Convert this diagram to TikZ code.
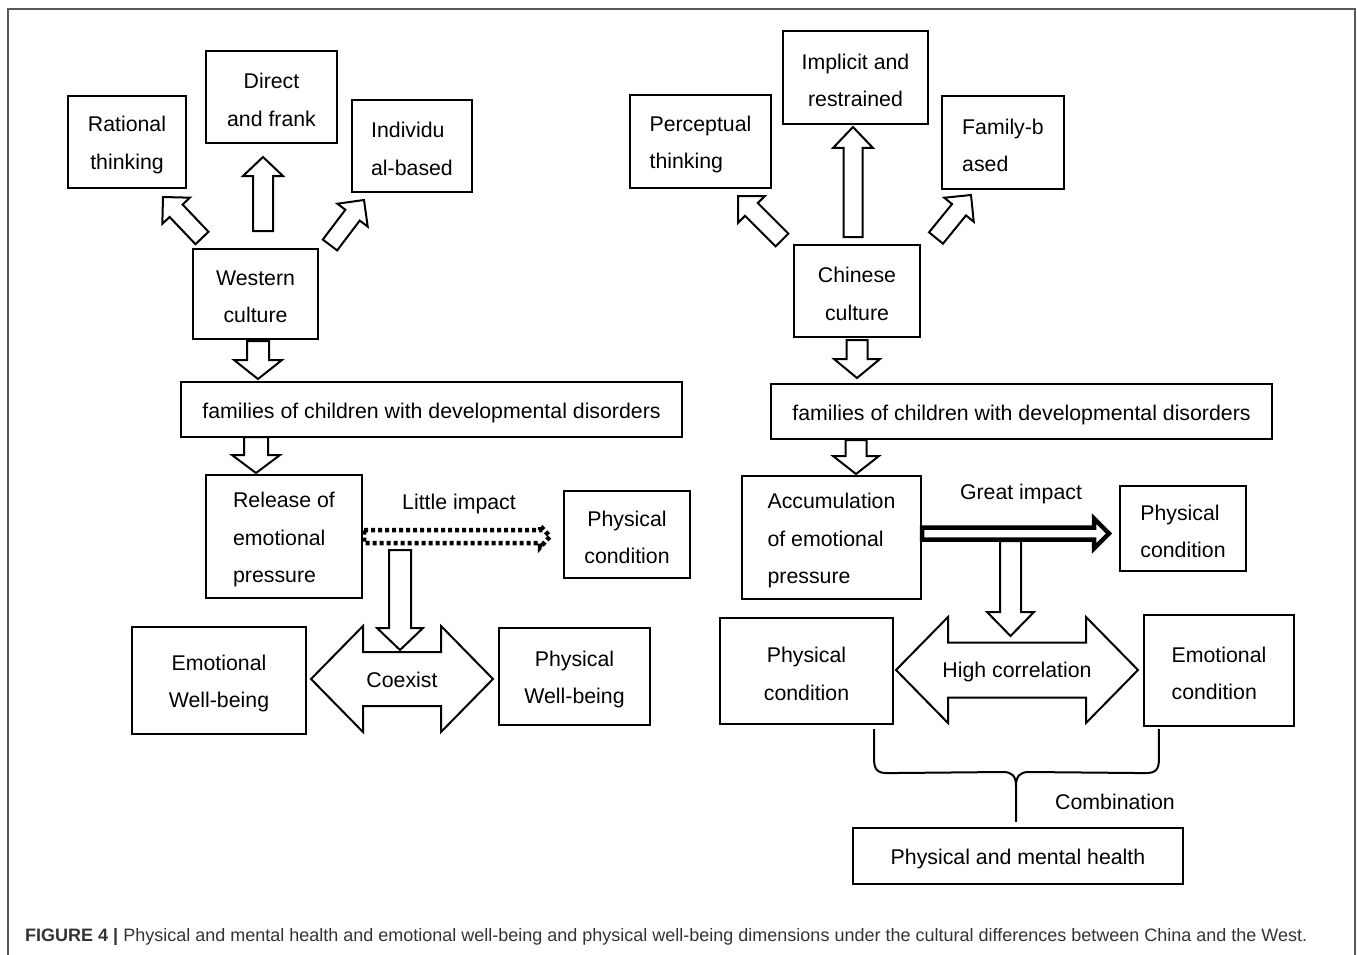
\documentclass[tikz,border=0pt]{standalone}
\usepackage{fontspec}
\setmainfont{Liberation Sans}
\usetikzlibrary{calc}

\tikzset{
  box/.style={draw, line width=2.2pt, inner sep=0pt},
  boxtext/.style={font=\fontsize{21.3}{37.5}\selectfont, align=center, inner sep=0pt, yshift=-3pt},
  say/.style={label={[boxtext]center:#1}},
  sayl/.style={label={[boxtext, align=left]center:#1}},
  wh/.style 2 args={minimum width=#1pt, minimum height=#2pt},
  hollow/.style={draw, line width=2pt, fill=white, line join=miter},
  dotline/.style={line width=4.5pt, dash pattern=on 4pt off 3pt, fill=none},
  tag/.style={font=\fontsize{21.3}{24}\selectfont},
  frame/.style={draw=black!65, line width=1.5pt},
}

% block arrow: [style] tail, tip, half shaft, half head, head length
\newcommand{\hollowarrow}[6][]{%
  \coordinate (ha) at ($(#3)!#6!(#2)$);
  \draw[hollow,#1] ($(#2)!#4!90:(#3)$) -- ($(ha)!#4!90:(#3)$) -- ($(ha)!#5!90:(#3)$)
    -- (#3) -- ($(ha)!#5!-90:(#3)$) -- ($(ha)!#4!-90:(#3)$) -- ($(#2)!#4!-90:(#3)$) -- cycle;
}
% double block arrow: left tip, right tip, half shaft, half head, head length
\newcommand{\twinarrow}[5]{%
  \coordinate (ta) at ($(#1)!#5!(#2)$);
  \coordinate (tb) at ($(#2)!#5!(#1)$);
  \draw[hollow] (#1) -- ($(ta)!#4!90:(#2)$) -- ($(ta)!#3!90:(#2)$) -- ($(tb)!#3!-90:(#1)$)
    -- ($(tb)!#4!-90:(#1)$) -- (#2) -- ($(tb)!#4!90:(#1)$) -- ($(tb)!#3!90:(#1)$)
    -- ($(ta)!#3!-90:(#2)$) -- ($(ta)!#4!-90:(#2)$) -- cycle;
}

\begin{document}
\begin{tikzpicture}[x=1pt, y=-1pt]
\useasboundingbox (0,0) rectangle (1357,955);
\draw[frame] (8,955) -- (8,9) -- (1355,9) -- (1355,955);

%% western side
\node[box, wh={118}{92}, say={Rational\\thinking}] (rational) at (127,142) {};
\node[box, wh={131}{92}, say={Direct\\and frank}] (direct) at (271.5,97) {};
\node[box, wh={120}{92}, sayl={Individu\\al-based}] (indiv) at (412,146) {};
\node[box, wh={125}{90}, say={Western\\culture}] (western) at (255.5,294) {};
\node[box, wh={501}{55}, say={families of children with developmental disorders}] (famW) at (431.5,409.5) {};
\node[box, wh={156}{123}, sayl={Release of\\emotional\\pressure}] (release) at (284,536.5) {};
\node[box, wh={126}{87}, say={Physical\\condition}] (physW) at (627,534.5) {};
\node[box, wh={174}{107}, say={Emotional\\Well-being}] (emoWB) at (219,680.5) {};
\node[box, wh={151}{97}, say={Physical\\Well-being}] (physWB) at (574.5,676.5) {};

\coordinate (wr-a) at (202,238); \coordinate (wr-b) at (163,197);
\coordinate (wd-a) at (263,231); \coordinate (wd-b) at (263,157);
\coordinate (wi-a) at (330,245); \coordinate (wi-b) at (364,200);
\coordinate (wf-a) at (258,341); \coordinate (wf-b) at (258,379);
\coordinate (fr-a) at (256,437); \coordinate (fr-b) at (256,473);
\coordinate (rp-a) at (364,536.5); \coordinate (rp-b) at (550,536.5);
\coordinate (co-a) at (311,679); \coordinate (co-b) at (493,679);
\coordinate (rc-a) at (400,550); \coordinate (rc-b) at (400,650);

\hollowarrow{wr-a}{wr-b}{9pt}{19pt}{19pt}
\hollowarrow{wd-a}{wd-b}{10pt}{20pt}{19pt}
\hollowarrow{wi-a}{wi-b}{9pt}{19pt}{19pt}
\hollowarrow{wf-a}{wf-b}{11pt}{24pt}{19pt}
\hollowarrow{fr-a}{fr-b}{12pt}{24pt}{18pt}
\hollowarrow[dotline]{rp-a}{rp-b}{6.5pt}{11pt}{10pt}
\twinarrow{co-a}{co-b}{27pt}{53pt}{52pt}
\hollowarrow{rc-a}{rc-b}{11pt}{23pt}{22pt}

\node[tag] (little) at (459,504) {Little impact};
\node[tag] (coexist) at (402,680) {Coexist};

%% chinese side
\node[box, wh={141}{93}, sayl={Perceptual\\thinking}] (percept) at (700.5,141.5) {};
\node[box, wh={145}{93}, say={Implicit and\\restrained}] (implicit) at (855.5,77.5) {};
\node[box, wh={122}{93}, sayl={Family-b\\ased}] (family) at (1003,142.5) {};
\node[box, wh={126}{92}, say={Chinese\\culture}] (chinese) at (857,291) {};
\node[box, wh={501}{55}, say={families of children with developmental disorders}] (famC) at (1021.5,411.5) {};
\node[box, wh={179}{123}, sayl={Accumulation\\of emotional\\pressure}] (accum) at (831.5,537.5) {};
\node[box, wh={126}{85}, sayl={Physical\\condition}] (physC) at (1183,528.5) {};
\node[box, wh={173}{106}, say={Physical\\condition}] (physC2) at (806.5,671) {};
\node[box, wh={150}{111}, sayl={Emotional\\condition}] (emoC) at (1219,670.5) {};
\node[box, wh={330}{56}, say={Physical and mental health}] (health) at (1018,856) {};

\coordinate (cp-a) at (782,240); \coordinate (cp-b) at (738,196);
\coordinate (ci-a) at (853,237); \coordinate (ci-b) at (853,127);
\coordinate (cf-a) at (936,238); \coordinate (cf-b) at (971,195);
\coordinate (cc-a) at (857,340); \coordinate (cc-b) at (857,378);
\coordinate (fa-a) at (856,440); \coordinate (fa-b) at (856,474);
\coordinate (gi-a) at (922,533.5); \coordinate (gi-b) at (1109,533.5);
\coordinate (hc-a) at (896,670); \coordinate (hc-b) at (1138,670);
\coordinate (gh-a) at (1010.5,541); \coordinate (gh-b) at (1010.5,636);

\hollowarrow{cp-a}{cp-b}{9pt}{19pt}{19pt}
\hollowarrow{ci-a}{ci-b}{9.5pt}{20pt}{21pt}
\hollowarrow{cf-a}{cf-b}{9pt}{19pt}{19pt}
\hollowarrow{cc-a}{cc-b}{10.5pt}{23pt}{19pt}
\hollowarrow{fa-a}{fa-b}{10.5pt}{23pt}{18pt}
\twinarrow{hc-a}{hc-b}{27.5pt}{53pt}{52pt}
\hollowarrow{gh-a}{gh-b}{10.5pt}{23.5pt}{24pt}
\hollowarrow[line width=4.5pt]{gi-a}{gi-b}{6pt}{15pt}{15pt}

\node[tag] (great) at (1021,494) {Great impact};
\node[tag] (correl) at (1017,672) {High correlation};

% brace joining the two conditions
\coordinate (bl) at ($(physC2.south east)+(-20,4)$);
\coordinate (br) at ($(emoC.south west)+(16,2)$);
\coordinate (bm) at ($(health.north)+(-2,-5)$);
\draw[line width=2pt] (bl) -- ++(0,30) .. controls +(0,10) and +(-10,0) .. ++(13,14) -- (1003,772)
  .. controls (1012,772) and (1016,776) .. (1016,786) -- (bm);
\draw[line width=2pt] (br) -- ++(0,30) .. controls +(0,10) and +(10,0) .. ++(-13,14) -- (1029,772)
  .. controls (1020,772) and (1016,776) .. (1016,786);
\node[tag] (combo) at (1115,802) {Combination};

% caption
\node[anchor=west, inner sep=0pt, text=black!80, font=\fontsize{18}{20}\selectfont] (caption) at (25,937)
  {\textbf{FIGURE 4 |} Physical and mental health and emotional well-being and physical well-being dimensions under the cultural differences between China and the West.};
\end{tikzpicture}
\end{document}
